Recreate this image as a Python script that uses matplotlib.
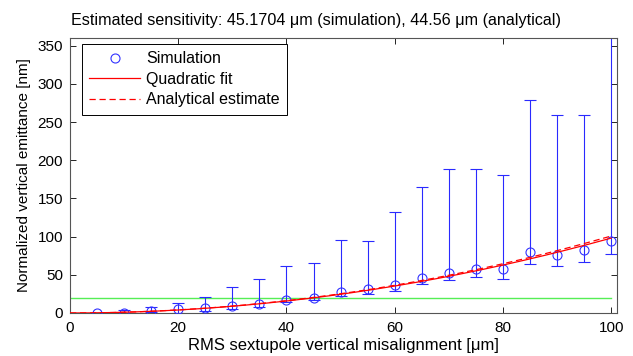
import numpy as np
import matplotlib
matplotlib.use('Agg')
import matplotlib.pyplot as plt
from matplotlib.lines import Line2D

# --- 数据 ---
misalign_um = [5, 10, 15, 20, 25, 30, 35, 40, 45, 50,
               55, 60, 65, 70, 75, 80, 85, 90, 95, 100]
emit_mean = [0.4, 0.5, 3, 5, 7, 9.5, 12, 17, 19, 27.5,
             31, 36, 46, 52.5, 58, 57.5, 80, 76.5, 82, 94]
emit_upper = [0.6, 4, 7.4, 12.7, 21, 34, 44, 61, 65, 95,
              94, 132, 165, 189, 189, 181, 279, 259, 259, 420]
emit_lower = [0.2, 0.1, 1, 0.5, 2, 5, 8, 14, 17, 22,
              25, 29, 38, 43, 46.5, 45, 64, 61, 67, 77]

# 阈值与灵敏度 (标题中的数值)
threshold_nm = 20.0
sens_sim_um = 45.1704
sens_ana_um = 44.56

x_ticks = [0, 20, 40, 60, 80, 100]
y_ticks = [0, 50, 100, 150, 200, 250, 300, 350]


def plot_sensitivity(save_path='out.png'):
    plt.rcParams['font.family'] = ['Liberation Sans', 'DejaVu Sans']
    plt.rcParams['font.size'] = 11

    fig = plt.figure(figsize=(6.33, 3.56), dpi=100)
    ax = fig.add_axes([0.1106, 0.1208, 0.8634, 0.7725])

    x = np.array(misalign_um, dtype=float)
    y = np.array(emit_mean)
    yerr = [y - np.array(emit_lower), np.array(emit_upper) - y]

    # 误差棒 + 空心圆点
    ax.errorbar(x, y, yerr=yerr, fmt='none', ecolor='#2a2aff', elinewidth=0.8,
                capsize=4.5, capthick=0.8, zorder=2)
    ax.plot(x, y, 'o', mfc='none', mec='#3333ff', ms=6.5, mew=0.8, zorder=3)

    # 二次拟合曲线 y = thr * (x / sens)^2
    xf = np.linspace(0, 100, 201)
    ax.plot(xf, threshold_nm * (xf / sens_sim_um) ** 2, color='red', lw=0.9, zorder=4)
    ax.plot(xf, threshold_nm * (xf / sens_ana_um) ** 2, color='red', lw=0.9,
            ls=(0, (5, 3)), zorder=4)

    # 阈值线
    ax.plot([0, 100], [threshold_nm, threshold_nm], color='#55ee55', lw=1.0, zorder=1)

    ax.set_xlim(0, 101)
    ax.set_ylim(0, 360)
    ax.set_xticks(x_ticks)
    ax.set_yticks(y_ticks)
    ax.tick_params(direction='in', top=True, right=True, length=4, width=0.6,
                   labelsize=11, colors='black')
    ax.tick_params(axis='x', pad=6)
    ax.tick_params(axis='y', pad=5)
    for sp in ax.spines.values():
        sp.set_color('#555555')
        sp.set_linewidth(0.8)

    # 标题在整幅图中居中
    ax.set_title('Estimated sensitivity: 45.1704 \u03bcm (simulation), 44.56 \u03bcm (analytical)',
                 fontsize=11.6, pad=9, x=0.45)
    ax.set_xlabel('RMS sextupole vertical misalignment [\u03bcm]', fontsize=12, labelpad=2)
    ax.set_ylabel('Normalized vertical emittance [nm]', fontsize=11, labelpad=5)

    handles = [
        Line2D([], [], ls='none', marker='o', mfc='none', mec='#3333ff', ms=6.5, mew=0.8),
        Line2D([], [], color='red', lw=0.9),
        Line2D([], [], color='red', lw=0.9, ls=(0, (5, 3))),
    ]
    leg = ax.legend(handles, ['Simulation', 'Quadratic fit', 'Analytical estimate'],
                    loc='upper left', bbox_to_anchor=(0.022, 0.978), borderaxespad=0,
                    fancybox=False, edgecolor='black', framealpha=1, fontsize=11.5,
                    handlelength=3.2, borderpad=0.45, labelspacing=0.35,
                    handletextpad=0.35)
    leg.get_frame().set_linewidth(0.7)

    fig.savefig(save_path, dpi=100)


if __name__ == '__main__':
    plot_sensitivity()
